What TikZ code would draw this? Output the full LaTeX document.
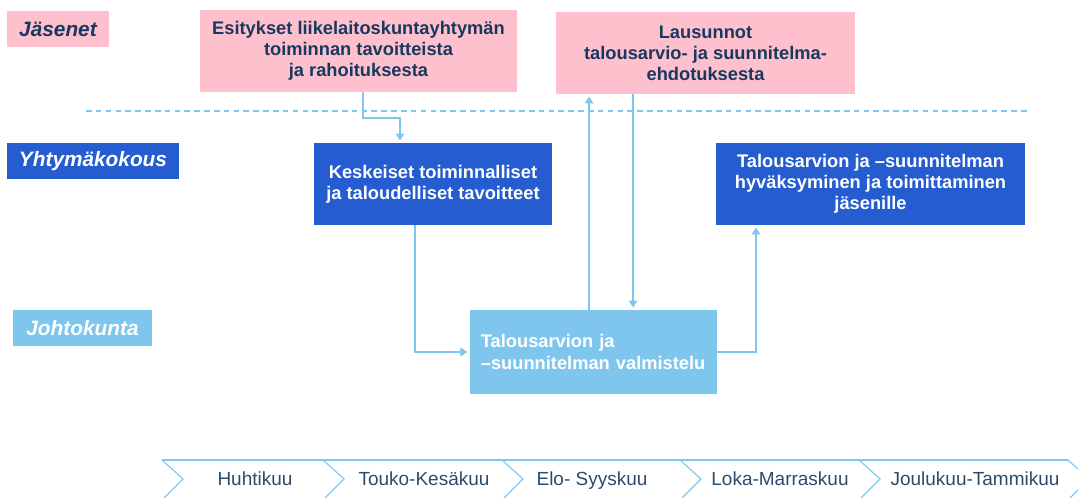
\documentclass[tikz,border=0pt]{standalone}
\usepackage{fontspec}
\setmainfont{Liberation Sans}
\usetikzlibrary{arrows.meta}

\definecolor{navy}{HTML}{17395F}
\definecolor{pinkfill}{HTML}{FFC0CD}
\definecolor{deepblue}{HTML}{255DD1}
\definecolor{skyblue}{HTML}{7EC6EE}
\definecolor{monthtext}{HTML}{2A4B6C}

\tikzset{
  role/.style={minimum height=0.9cm, inner sep=0pt, font=\fontsize{14.8}{16}\selectfont\bfseries\itshape},
  pinkbox/.style={fill=pinkfill, text=navy, align=center, inner sep=0pt, minimum height=2.05cm,
    font=\fontsize{13}{15}\selectfont\bfseries},
  bluebox/.style={fill=deepblue, text=white, align=center, inner sep=0pt, minimum height=2.05cm,
    font=\fontsize{13}{15}\selectfont\bfseries},
  lightbox/.style={fill=skyblue, text=white, align=left, inner ysep=0pt, minimum height=2.1cm,
    font=\fontsize{13}{15}\selectfont\bfseries},
  flow/.style={skyblue, line width=1.3pt, -{Triangle[width=6pt,length=5pt]}, shorten >=1.5pt},
  month/.style={text=monthtext, anchor=base, font=\fontsize{13.5}{15}\selectfont}
}

\begin{document}
\begin{tikzpicture}[x=0.025cm, y=-0.025cm]
  \useasboundingbox (0,0) rectangle (1078,498);

  % roles on the left
  \node[role, fill=pinkfill, text=navy, minimum width=2.55cm] (jas) at (58,29) {Jäsenet};
  \node[role, fill=deepblue, text=white, minimum width=4.3cm] (yht) at (93,161) {Yhtymäkokous};
  \node[role, fill=skyblue, text=white, minimum width=3.48cm] (joh) at (82.5,328) {Johtokunta};

  % boxes
  \node[pinkbox, minimum width=7.93cm] (esit) at (358.5,51)
    {Esitykset liikelaitoskuntayhtymän\\toiminnan tavoitteista\\ja rahoituksesta};
  \node[pinkbox, minimum width=7.48cm] (laus) at (705.5,53)
    {Lausunnot\\talousarvio- ja suunnitelma-\\ehdotuksesta};
  \node[bluebox, minimum width=5.95cm] (tav) at (433,184)
    {Keskeiset toiminnalliset\\ja taloudelliset tavoitteet};
  \node[bluebox, minimum width=7.73cm] (hyv) at (870.5,184)
    {Talousarvion ja --suunnitelman\\hyväksyminen ja toimittaminen\\jäsenille};
  \node[lightbox, text width=5.63cm, inner xsep=0.275cm] (valm) at (593.5,352)
    {Talousarvion ja\\--suunnitelman valmistelu};

  % dashed divider
  \draw[skyblue, line width=0.8pt, dash pattern=on 4pt off 3pt] (86,111) -- (1030,111);

  % connectors
  \draw[flow] (esit.south) ++(4.5,0) |- (400,118) -- ([xshift=-0.825cm]tav.north);
  \draw[flow] ([xshift=-0.45cm]tav.south) |- (valm.west);
  \draw[flow] ([xshift=-0.11cm]valm.north) -- ([xshift=-0.11cm]valm.north |- laus.south);
  \draw[flow] ([xshift=0.99cm]valm.north |- laus.south) -- ([xshift=0.99cm]valm.north);
  \draw[flow] (valm.east) -| ([xshift=-2.86cm]hyv.south);

  % timeline
  \draw[skyblue, line width=0.8pt] (162,460) -- (1068,460);
  \foreach \bx in {162,323,502,680,859,1068}
    \draw[skyblue, line width=0.8pt] (\bx,460) -- (\bx+21,479) -- (\bx+2,498);
  \node[month] (m1) at (255,485) {Huhtikuu};
  \node[month] (m2) at (424,485) {Touko-Kesäkuu};
  \node[month] (m3) at (592,485) {Elo- Syyskuu};
  \node[month] (m4) at (780,485) {Loka-Marraskuu};
  \node[month] (m5) at (975,485) {Joulukuu-Tammikuu};
\end{tikzpicture}
\end{document}
